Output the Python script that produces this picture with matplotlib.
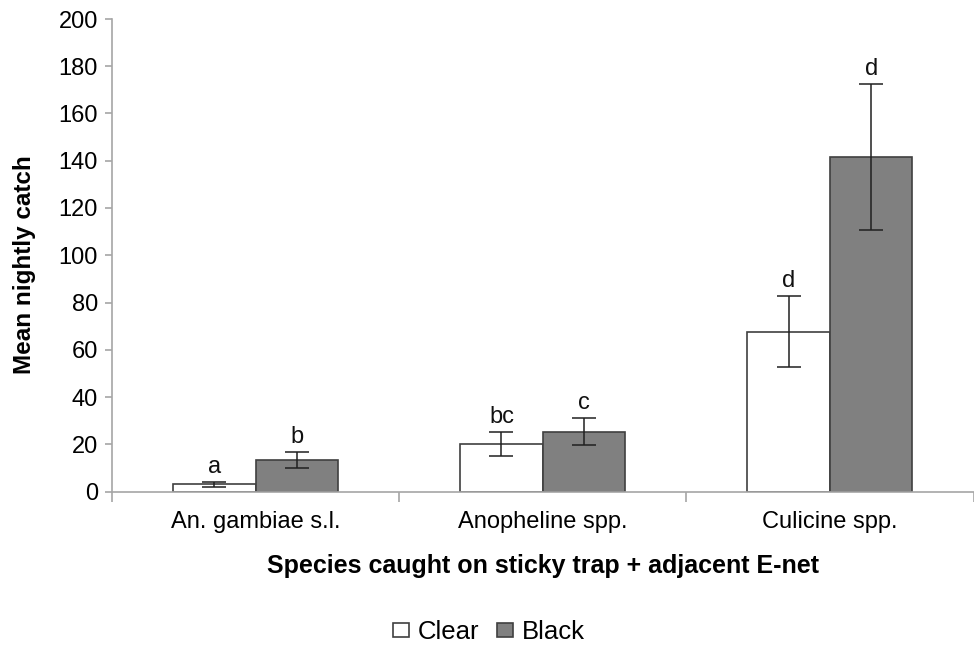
import matplotlib
matplotlib.use("Agg")
import matplotlib.pyplot as plt
import numpy as np

plt.rcParams['font.family'] = ['Liberation Sans', 'DejaVu Sans']

categories = ["An. gambiae s.l.", "Anopheline spp.", "Culicine spp."]
series_names = ["Clear", "Black"]
clear_mean = [3.1, 20.0, 67.7]
clear_err = [1.0, 5.0, 15.1]
black_mean = [13.3, 25.3, 141.6]
black_err = [3.3, 5.6, 31.0]
clear_letters = ["a", "bc", "d"]
black_letters = ["b", "c", "d"]
yticks = [0, 20, 40, 60, 80, 100, 120, 140, 160, 180, 200]

fig = plt.figure(figsize=(9.74, 6.48), dpi=100)
ax = fig.add_axes([112 / 974, 156.5 / 648, 861.5 / 974, 472.5 / 648])

x = np.arange(len(categories))
w = 0.2875
edge = "#404040"
axis_col = "#a6a6a6"
ekw = dict(ecolor="#202020", elinewidth=1.1, capsize=8.5, capthick=1.1)

b1 = ax.bar(x - w / 2, clear_mean, w, color="white", edgecolor=edge, linewidth=1.2,
            yerr=clear_err, error_kw=ekw, label=series_names[0], zorder=2)
b2 = ax.bar(x + w / 2, black_mean, w, color="#808080", edgecolor=edge, linewidth=1.2,
            yerr=black_err, error_kw=ekw, label=series_names[1], zorder=2)

# significance letters just above each error bar
for xs, means, errs, letters in ((x - w / 2, clear_mean, clear_err, clear_letters),
                                 (x + w / 2, black_mean, black_err, black_letters)):
    for xi, m, e, t in zip(xs, means, errs, letters):
        ax.annotate(t, (xi, m + e), xytext=(0, 6.5), textcoords="offset points",
                    ha="center", va="baseline", fontsize=17, color="#111111")

ax.set_xlim(-0.5, 2.5)
ax.set_ylim(0, 200)
ax.set_yticks(yticks)
ax.set_yticklabels([str(v) for v in yticks], fontsize=17)
ax.set_xticks(x)
ax.set_xticklabels(categories, fontsize=17)
ax.tick_params(axis="x", length=0, pad=14)
ax.set_xticks([-0.5, 0.5, 1.5, 2.5], minor=True)
ax.tick_params(axis="x", which="minor", length=7, color=axis_col, width=1.2, direction="out")
ax.tick_params(axis="y", length=5, color=axis_col, width=1.2, direction="out", pad=5)

for s in ["top", "right"]:
    ax.spines[s].set_visible(False)
for s in ["left", "bottom"]:
    ax.spines[s].set_color(axis_col)
    ax.spines[s].set_linewidth(1.2)

ax.set_ylabel("Mean nightly catch", fontsize=17.5, fontweight="bold")
ax.yaxis.set_label_coords(-0.088, 0.48)
ax.set_xlabel("Species caught on sticky trap + adjacent E-net", fontsize=18,
              fontweight="bold")
ax.xaxis.set_label_coords(0.5, -0.133)

fig.legend(handles=[b1, b2], labels=series_names, loc="center",
           bbox_to_anchor=(489 / 974, 1 - 632 / 648),
           ncol=2, frameon=False, fontsize=18.5, handlelength=0.6, handleheight=0.45,
           handletextpad=0.35, columnspacing=0.7)

fig.savefig("out.png", dpi=100, facecolor="white")
